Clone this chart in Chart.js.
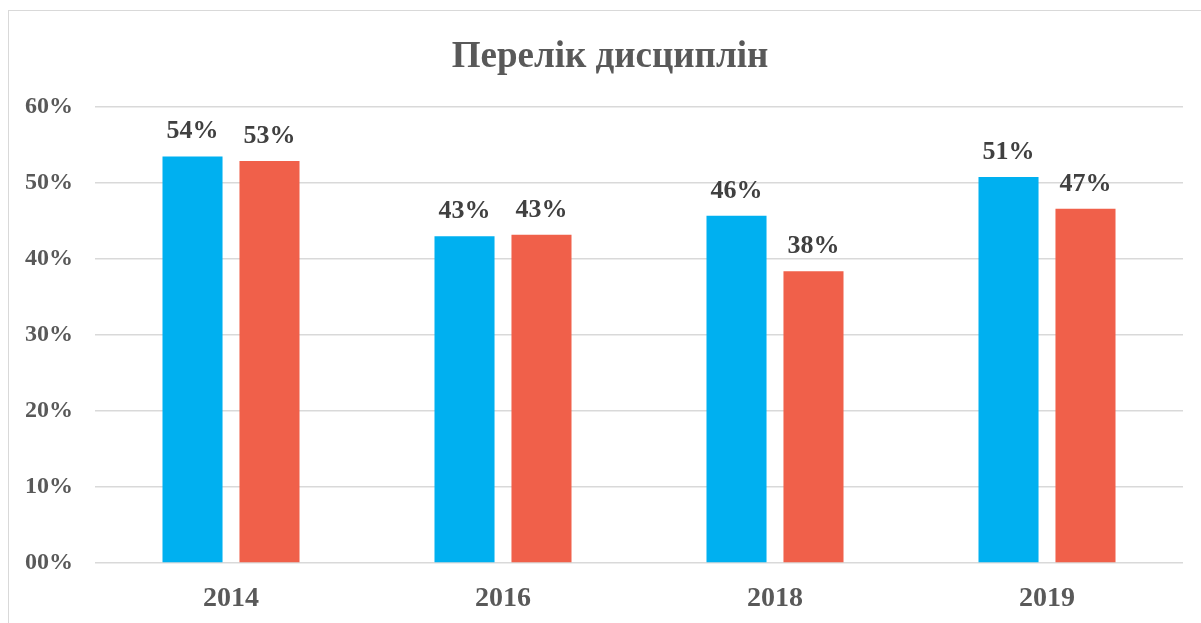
<!DOCTYPE html>
<html>
<head>
<meta charset="utf-8">
<script src="https://cdn.jsdelivr.net/npm/chart.js@4/dist/chart.umd.min.js"></script>
<style>
  html,body{margin:0;padding:0;background:#fff;}
  #wrap{width:1201px;height:623px;position:relative;}
</style>
</head>
<body>
<div id="wrap"><canvas id="c" width="1201" height="623"></canvas></div>
<script>
const categories = ['2014', '2016', '2018', '2019'];
const seriesA = [53.5, 43.0, 45.7, 50.8];
const seriesB = [52.9, 43.2, 38.4, 46.6];
const yTicks = [0, 10, 20, 30, 40, 50, 60];
const chartTitle = 'Перелік дисциплін';

const FONT = '"Liberation Serif", "Times New Roman", serif';

const borderPlugin = {
  id: 'outerBorder',
  beforeDraw(chart) {
    const ctx = chart.ctx;
    ctx.save();
    ctx.fillStyle = '#ffffff';
    ctx.fillRect(0, 0, chart.width, chart.height);
    ctx.strokeStyle = '#d9d9d9';
    ctx.lineWidth = 1;
    ctx.strokeRect(8.5, 10.5, 1400, 800);
    ctx.restore();
  },
  afterDraw(chart) {
    const ctx = chart.ctx;
    ctx.save();
    ctx.font = 'bold 37px ' + FONT;
    ctx.fillStyle = '#595959';
    ctx.textAlign = 'center';
    ctx.textBaseline = 'alphabetic';
    ctx.fillText(chartTitle, 610, 67);
    ctx.restore();
  }
};

const labelPlugin = {
  id: 'barLabels',
  afterDatasetsDraw(chart) {
    const ctx = chart.ctx;
    ctx.save();
    ctx.font = 'bold 26px ' + FONT;
    ctx.fillStyle = '#404040';
    ctx.textAlign = 'center';
    ctx.textBaseline = 'alphabetic';
    chart.data.datasets.forEach((ds, i) => {
      chart.getDatasetMeta(i).data.forEach((bar, j) => {
        ctx.fillText(Math.round(ds.data[j]) + '%', bar.x, bar.y - 18);
      });
    });
    ctx.restore();
  }
};

new Chart(document.getElementById('c'), {
  type: 'bar',
  data: {
    labels: categories,
    datasets: [
      { label: 'A', data: seriesA, backgroundColor: '#00B0F0',
        categoryPercentage: 0.566, barPercentage: 0.78 },
      { label: 'B', data: seriesB, backgroundColor: '#F0604A',
        categoryPercentage: 0.566, barPercentage: 0.78 }
    ]
  },
  options: {
    responsive: false,
    animation: false,
    layout: { padding: { left: 0, right: 18, top: 107, bottom: 0 } },
    plugins: {
      legend: { display: false },
      tooltip: { enabled: false },
      title: { display: false }
    },
    scales: {
      x: {
        grid: { display: false, drawTicks: false },
        border: { display: false },
        ticks: {
          color: '#595959',
          font: { family: FONT, size: 28, weight: 'bold' },
          padding: 19
        },
        afterFit(scale) { scale.height = 60; }
      },
      y: {
        min: 0, max: 60,
        afterBuildTicks(scale) { scale.ticks = yTicks.map(v => ({ value: v })); },
        grid: { color: '#d9d9d9', lineWidth: 1.5, drawTicks: false },
        border: { display: false },
        ticks: {
          color: '#595959',
          font: { family: FONT, size: 24, weight: 'bold' },
          padding: 22,
          callback: v => String(v).padStart(2, '0') + '%'
        },
        afterFit(scale) { scale.width = 95; }
      }
    }
  },
  plugins: [borderPlugin, labelPlugin]
});
</script>
</body>
</html>
